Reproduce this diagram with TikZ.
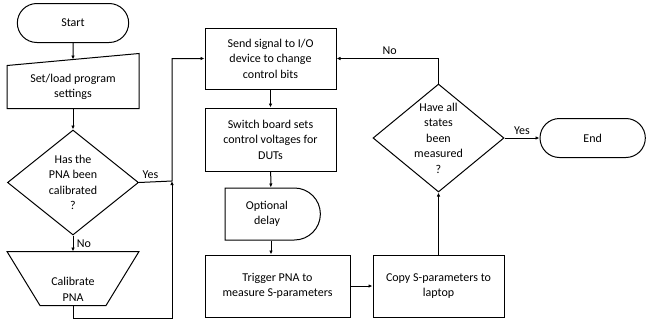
\documentclass[tikz,border=0pt]{standalone}
\usepackage{fontspec}
\setmainfont{Carlito}
\usetikzlibrary{positioning, arrows.meta, shapes.geometric, shapes.misc, calc}

\begin{document}
\begin{tikzpicture}[
  x=1pt, y=-1pt,
  font=\fontsize{12}{15.5}\selectfont,
  line width=1pt,
  terminal/.style={draw, rounded rectangle, minimum width=118pt, minimum height=39pt},
  process/.style={draw, minimum width=131pt, minimum height=62pt, align=center, inner sep=2pt},
  decision/.style={draw, diamond, aspect=1.25, minimum width=131pt, minimum height=105pt, inner sep=0pt},
  manual/.style={minimum width=131pt, minimum height=42pt, align=center},
  calibbox/.style={minimum width=131pt, minimum height=53pt},
  delaybox/.style={draw, rounded rectangle, rounded rectangle left arc=none, minimum width=102pt, minimum height=52pt, align=center},
  arr/.style={-{Latex[length=4pt, width=3.5pt]}}
]
\useasboundingbox (0,0) rectangle (651,322);

% left column
\node[terminal] (start) at (73,23) {Start};
\node[manual, below=22.5pt of start] (set) {Set/load program\\settings};
\draw (set.south west) -- (set.south east) -- ($(set.north east)+(0,12pt)$) -- (set.north west) -- cycle;
\coordinate (setin) at ($(set.north)+(0,6pt)$);
\node[decision, below=21pt of set, label={[align=center]center:Has the\\PNA been\\calibrated\\?}] (d1) {};
\node[calibbox, below=16pt of d1, label={[align=center, yshift=-11pt]center:Calibrate\\PNA}] (calib) {};
\draw (calib.north west) -- (calib.north east) -- ($(calib.south east)+(-33pt,0)$) -- ($(calib.south west)+(33pt,0)$) -- cycle;

% middle column
\node[process, minimum height=61pt] (send) at (270.5,58.5) {Send signal to I/O\\device to change\\control bits};
\node[process, minimum height=63pt, below=18pt of send] (switch) {Switch board sets\\control voltages for\\DUTs};
\node[delaybox, below=16pt of switch, xshift=0.5pt] (delay) {\hspace*{-8pt}Optional\\\hspace*{-8pt}delay};
\node[process, minimum width=145pt] (trigger) at (277.5,286) {Trigger PNA to\\measure S-parameters};

% right column
\node[process, right=22pt of trigger] (copy) {Copy S-parameters to\\laptop};
\node[decision, minimum height=108pt, above=62pt of copy, label={[align=center]center:Have all\\states\\been\\measured\\?}] (d2) {};
\node[terminal, minimum width=112pt, right=35pt of d2] (end) {End};

\coordinate (join) at (172,181);
\coordinate (low) at (172,318);

\draw[arr] (start) -- (setin);
\draw[arr] (set) -- (d1);
\draw[arr] (d1) -- node[right] {No} (calib);
\draw[arr] (d1.east) -- node[above, pos=0.35] {Yes} (join) |- (send.west);
\draw[arr] (calib.south) |- (low) -- (join);
\draw[arr] (send) -- (switch);
\draw[arr] (switch) -- (delay);
\draw[arr] (delay.south) -- (delay.south |- trigger.north);
\draw[arr] (trigger) -- (copy);
\draw[arr] (copy) -- (d2);
\draw[arr] (d2.north) |- node[above, pos=0.74] {No} (send.east);
\draw[arr] (d2.east) -- node[above] {Yes} (end);
\end{tikzpicture}
\end{document}
